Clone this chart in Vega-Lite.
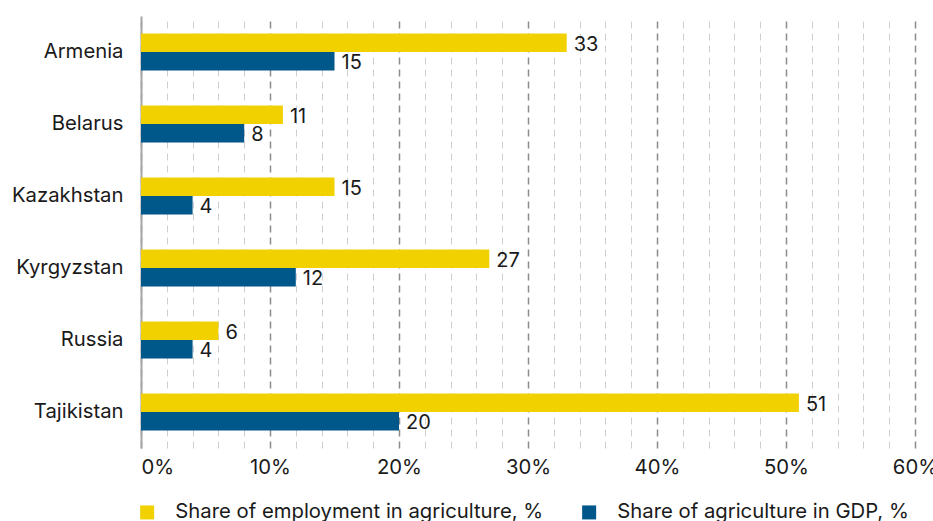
{
  "$schema": "https://vega.github.io/schema/vega-lite/v6.json",
  "width": 774,
  "height": 432,
  "autosize": {"type": "none"},
  "padding": {"left": 141, "top": 16, "right": 18, "bottom": 73},
  "config": {
    "font": "Inter",
    "view": {"stroke": null},
    "axis": {"labelColor": "#1a1a1a", "labelFontSize": 20.3, "labelFont": "Inter"},
    "legend": {"labelFont": "Inter"}
  },
  "data": {
    "values": [
      {"country": "Armenia", "series": "Share of employment in agriculture, %", "value": 33},
      {"country": "Armenia", "series": "Share of agriculture in GDP, %", "value": 15},
      {"country": "Belarus", "series": "Share of employment in agriculture, %", "value": 11},
      {"country": "Belarus", "series": "Share of agriculture in GDP, %", "value": 8},
      {"country": "Kazakhstan", "series": "Share of employment in agriculture, %", "value": 15},
      {"country": "Kazakhstan", "series": "Share of agriculture in GDP, %", "value": 4},
      {"country": "Kyrgyzstan", "series": "Share of employment in agriculture, %", "value": 27},
      {"country": "Kyrgyzstan", "series": "Share of agriculture in GDP, %", "value": 12},
      {"country": "Russia", "series": "Share of employment in agriculture, %", "value": 6},
      {"country": "Russia", "series": "Share of agriculture in GDP, %", "value": 4},
      {"country": "Tajikistan", "series": "Share of employment in agriculture, %", "value": 51},
      {"country": "Tajikistan", "series": "Share of agriculture in GDP, %", "value": 20}
    ]
  },
  "encoding": {
    "y": {
      "field": "country",
      "type": "nominal",
      "sort": null,
      "scale": {"paddingInner": 0.486, "paddingOuter": 0.243},
      "axis": {
        "title": null,
        "ticks": false,
        "domainColor": "#a6a6a6",
        "domainWidth": 2,
        "labelPadding": 18,
        "labelFontSize": 20.3
      }
    },
    "yOffset": {
      "field": "series",
      "type": "nominal",
      "sort": ["Share of employment in agriculture, %", "Share of agriculture in GDP, %"],
      "scale": {"paddingInner": 0, "paddingOuter": 0}
    },
    "x": {
      "field": "value",
      "type": "quantitative",
      "scale": {"domain": [0, 60], "nice": false},
      "axis": {
        "title": null,
        "values": [0, 2, 4, 6, 8, 10, 12, 14, 16, 18, 20, 22, 24, 26, 28, 30, 32, 34, 36, 38, 40, 42, 44, 46, 48, 50, 52, 54, 56, 58, 60],
        "labelExpr": "datum.value % 10 === 0 ? datum.value + '%' : ''",
        "labelFlush": false,
        "labelAlign": {"condition": {"test": "datum.value === 0", "value": "left"}, "value": "center"},
        "ticks": false,
        "domain": false,
        "labelPadding": 9,
        "grid": true,
        "gridDash": [7, 5],
        "gridColor": {"condition": {"test": "datum.value % 10 === 0", "value": "#8c8c8c"}, "value": "#cfcfcf"},
        "gridWidth": {"condition": {"test": "datum.value % 10 === 0", "value": 1.5}, "value": 1}
      }
    }
  },
  "layer": [
    {
      "mark": {"type": "bar"},
      "encoding": {
        "color": {
          "field": "series",
          "type": "nominal",
          "sort": ["Share of employment in agriculture, %", "Share of agriculture in GDP, %"],
          "scale": {
            "domain": ["Share of employment in agriculture, %", "Share of agriculture in GDP, %"],
            "range": ["#F2D100", "#00578A"]
          },
          "legend": {
            "title": null,
            "orient": "none",
            "legendX": -4,
            "legendY": 486,
            "direction": "horizontal",
            "symbolType": "square",
            "symbolSize": 196,
            "symbolStrokeWidth": 0,
            "labelFontSize": 20.3,
            "labelColor": "#1a1a1a",
            "labelLimit": 0,
            "labelOffset": 18,
            "columnPadding": 35
          }
        }
      }
    },
    {
      "mark": {"type": "text", "align": "left", "baseline": "middle", "dx": 7, "dy": 2, "fontSize": 20, "color": "#1a1a1a"},
      "encoding": {
        "text": {"field": "value", "type": "quantitative"}
      }
    }
  ]
}
